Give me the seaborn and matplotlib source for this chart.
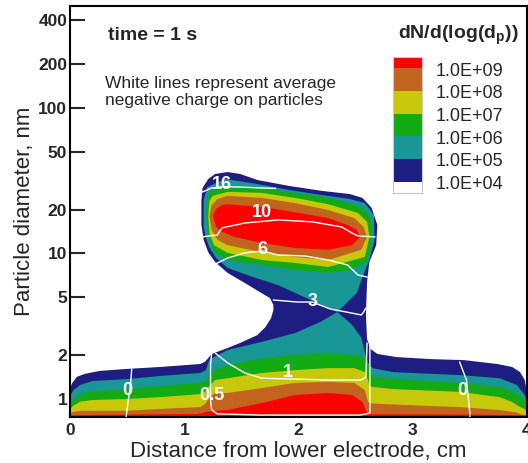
import matplotlib
matplotlib.use("Agg")
import matplotlib.pyplot as plt
from matplotlib.ticker import NullLocator
import seaborn as sns

# contour regions of dN/d(log(dp)) (x in cm, d in nm)
navy_x = [0, 0, 0.02, 0.06, 0.13, 0.26, 0.50, 0.79, 1.14, 1.18, 1.21, 1.24, 1.36, 1.49, 1.64, 1.71,
          1.76, 1.78, 1.78, 1.75, 1.66, 1.53, 1.38, 1.27, 1.21, 1.17, 1.15, 1.15, 1.16, 1.21, 1.27,
          1.38, 1.49, 1.64, 1.92, 2.21, 2.45, 2.56, 2.64, 2.69, 2.68, 2.62, 2.60, 2.59, 2.60, 2.63,
          2.69, 2.86, 3.16, 3.45, 3.74, 3.87, 3.94, 3.98, 4.0, 4.0]
navy_d = [0.7, 1.19, 1.29, 1.42, 1.49, 1.56, 1.61, 1.66, 1.74, 1.80, 1.91, 2.04, 2.21, 2.43, 2.75, 3.12,
          3.60, 4.09, 4.43, 4.94, 5.44, 6.27, 7.35, 8.74, 10.2, 12.4, 15.7, 23.3, 28.2, 32.5, 35.2,
          36.3, 35.2, 32.0, 29.1, 26.9, 25.6, 24.1, 20.6, 15.7, 11.4, 8.74, 6.37, 3.78, 2.58, 2.21,
          2.04, 1.94, 1.88, 1.85, 1.74, 1.66, 1.53, 1.35, 1.12, 0.7]

teal_x = [0, 0, 0.03, 0.09, 0.20, 0.50, 0.79, 1.14, 1.19, 1.22, 1.38, 1.68, 1.97, 2.19, 2.34, 2.07,
          1.82, 1.60, 1.38, 1.28, 1.22, 1.19, 1.17, 1.17, 1.20, 1.36, 1.64, 1.92, 2.21, 2.45, 2.58,
          2.66, 2.665, 2.62, 2.56, 2.51, 2.34, 2.47, 2.55, 2.58, 2.61, 2.65, 2.83, 3.41, 3.76, 3.91,
          3.98, 4.0, 4.0]
teal_d = [0.7, 1.05, 1.15, 1.25, 1.33, 1.37, 1.44, 1.51, 1.58, 1.87, 2.17, 2.47, 2.84, 3.38, 3.96, 4.94,
          6.07, 6.9, 7.95, 9.3, 11.0, 12.8, 15.2, 23.3, 28.6, 32.5, 30.0, 27.3, 25.2, 23.7, 22.2,
          18.4, 12.4, 9.02, 6.89, 5.35, 3.96, 3.23, 2.63, 2.10, 1.74, 1.63, 1.53, 1.46, 1.39, 1.25,
          1.065, 0.97, 0.7]

green_x = [0, 0, 0.035, 0.09, 0.20, 0.50, 0.79, 1.14, 1.19, 1.23, 1.27, 1.38, 1.68, 1.97, 2.26, 2.49,
           2.58, 2.61, 2.63, 2.65, 2.83, 3.41, 3.76, 3.91, 3.98, 4.0, 4.0]
green_d = [0.7, 0.924, 1.0, 1.08, 1.135, 1.17, 1.23, 1.29, 1.33, 1.48, 1.58, 1.71, 1.91, 2.01, 2.07, 2.01,
           1.91, 1.77, 1.55, 1.42, 1.38, 1.29, 1.21, 1.10, 0.984, 0.895, 0.7]
green_blob_x = [1.19, 1.20, 1.24, 1.38, 1.68, 1.97, 2.26, 2.55, 2.63, 2.645, 2.60, 2.45, 2.26, 1.97,
                1.68, 1.38, 1.26, 1.21]
green_blob_d = [18.1, 24.9, 27.3, 28.6, 28.2, 26.1, 24.1, 20.9, 17.5, 13.0, 8.74, 7.71, 7.35, 7.71,
                8.34, 9.02, 10.2, 13.2]

yellow_x = [0, 0, 0.03, 0.09, 0.20, 0.50, 0.79, 1.14, 1.18, 1.22, 1.27, 1.38, 1.68, 1.97, 2.26, 2.49,
            2.58, 2.61, 2.62, 2.65, 2.83, 3.41, 3.76, 3.87, 3.94, 4.0, 4.0]
yellow_d = [0.7, 0.854, 0.90, 0.96, 0.984, 1.0, 1.03, 1.08, 1.12, 1.23, 1.35, 1.39, 1.51, 1.58, 1.63,
            1.63, 1.53, 1.35, 1.23, 1.21, 1.17, 1.12, 1.03, 0.954, 0.881, 0.84, 0.7]
yellow_blob_x = [1.21, 1.22, 1.25, 1.38, 1.68, 1.97, 2.26, 2.52, 2.60, 2.62, 2.58, 2.26, 1.97, 1.68,
                 1.38, 1.26, 1.22]
yellow_blob_d = [18.1, 22.9, 24.9, 26.5, 26.1, 24.1, 21.8, 19.0, 16.5, 13.0, 9.47, 8.08, 8.61, 9.02,
                 10.1, 11.4, 13.8]

orange_x = [0, 0, 0.03, 0.09, 0.20, 0.50, 0.79, 1.14, 1.18, 1.22, 1.27, 1.38, 1.68, 1.97, 2.26, 2.49,
            2.58, 2.61, 2.65, 3.0, 3.41, 3.76, 3.90, 3.96, 4.0, 4.0]
orange_d = [0.7, 0.80, 0.815, 0.83, 0.83, 0.83, 0.855, 0.88, 0.92, 1.02, 1.10, 1.10, 1.19, 1.29, 1.31,
            1.29, 1.153, 0.95, 0.93, 0.905, 0.88, 0.84, 0.81, 0.78, 0.77, 0.7]
orange_blob_x = [1.22, 1.24, 1.29, 1.38, 1.68, 1.97, 2.26, 2.49, 2.57, 2.60, 2.55, 2.26, 1.97, 1.68,
                 1.38, 1.29, 1.24]
orange_blob_d = [18.1, 21.5, 23.7, 24.9, 24.1, 22.2, 19.9, 17.5, 15.2, 13.0, 10.6, 9.02, 9.47, 10.2,
                 11.4, 12.4, 14.5]

red_x = [0, 0, 0.5, 1.10, 1.16, 1.18, 1.27, 1.38, 1.68, 1.97, 2.26, 2.47, 2.56, 2.60, 2.63, 3.5, 4.0, 4.0]
red_d = [0.7, 0.772, 0.782, 0.788, 0.80, 0.814, 0.83, 0.84, 0.939, 1.065, 1.10, 1.065, 0.954, 0.80,
         0.785, 0.782, 0.772, 0.7]
red_blob_x = [1.25, 1.28, 1.33, 1.38, 1.68, 1.97, 2.26, 2.43, 2.51, 2.54, 2.47, 2.26, 1.97, 1.68,
              1.44, 1.33, 1.28]
red_blob_d = [18.1, 20.3, 21.5, 21.8, 20.9, 19.2, 17.5, 15.7, 14.5, 13.0, 11.4, 10.6, 10.9, 11.8,
              13.0, 14.1, 15.2]

# average negative charge lines
charge_lines = {
    "16": ([1.14, 1.24, 1.34, 1.49, 1.68, 1.80], [26.1, 28.2, 28.8, 28.6, 28.2, 28.0]),
    "10": ([1.15, 1.29, 1.33, 1.53, 1.82, 2.12, 2.38, 2.47, 2.52, 2.67],
           [13.0, 13.4, 15.0, 16.2, 17.0, 16.5, 15.2, 13.8, 13.2, 13.0]),
    "6": ([1.25, 1.38, 1.53, 1.68, 1.82, 2.06, 2.26, 2.43, 2.52, 2.60],
          [8.3, 9.31, 10.1, 10.4, 9.77, 9.61, 9.02, 8.34, 7.12, 6.89]),
    "3": ([1.78, 1.99, 2.12, 2.28, 2.42, 2.55, 2.57, 2.59], [4.79, 4.64, 4.64, 4.15, 3.96, 3.78, 3.96, 4.22]),
    "1": ([1.27, 1.38, 1.53, 1.68, 1.97, 2.26, 2.55, 2.59, 2.60], [2.07, 1.77, 1.51, 1.39, 1.37, 1.35, 1.35, 1.42, 2.43]),
    "0.5": ([1.24, 1.23, 1.23, 1.24, 1.29, 1.66, 2.54, 2.625, 2.625, 2.625, 2.625],
            [2.07, 1.71, 0.984, 0.84, 0.79, 0.776, 0.776, 0.80, 0.984, 1.58, 2.47]),
    "0a": ([0.54, 0.53, 0.51, 0.49], [1.61, 1.25, 0.984, 0.74]),
    "0b": ([3.41, 3.47, 3.50, 3.50], [1.80, 1.35, 0.80, 0.74]),
}
label_text = ["16", "10", "6", "3", "1", "0.5", "0", "0"]
label_x = [1.33, 1.68, 1.68, 2.12, 1.91, 1.24, 0.50, 3.43]
label_d = [29.6, 19.2, 10.6, 4.71, 1.53, 1.065, 1.153, 1.153]

legend_levels = [4, 5, 6, 7, 8, 9]
legend_labels = ["1.0E+04", "1.0E+05", "1.0E+06", "1.0E+07", "1.0E+08", "1.0E+09"]
colors = ["#1e1e82", "#199696", "#14aa14", "#c8c80a", "#c3641e", "#ff0000"]

y_ticks = [1, 2, 5, 10, 20, 50, 100, 200, 400]
x_ticks = [0, 1, 2, 3, 4]

sns.set_style("ticks")
plt.rcParams["font.family"] = ["Liberation Sans", "DejaVu Sans"]
plt.rcParams["mathtext.fontset"] = "custom"
plt.rcParams["mathtext.rm"] = "Liberation Sans"
plt.rcParams["mathtext.bf"] = "Liberation Sans:bold"

fig = plt.figure(figsize=(5.28, 4.63), dpi=100)
ax = fig.add_axes([0.1326, 0.1004, 0.8655, 0.8866])
ax.set_facecolor("white")

regions = [
    [(navy_x, navy_d)],
    [(teal_x, teal_d)],
    [(green_x, green_d), (green_blob_x, green_blob_d)],
    [(yellow_x, yellow_d), (yellow_blob_x, yellow_blob_d)],
    [(orange_x, orange_d), (orange_blob_x, orange_blob_d)],
    [(red_x, red_d), (red_blob_x, red_blob_d)],
]
for polys, c in zip(regions, colors):
    for px, pd_ in polys:
        ax.fill(px, pd_, color=c, lw=0, zorder=1)

ax.set_yscale("log")
for name, (lx, ld) in charge_lines.items():
    sns.lineplot(x=lx, y=ld, sort=False, estimator=None, color="white", lw=1.0, ax=ax, zorder=3)
for t, lx, ld in zip(label_text, label_x, label_d):
    ax.text(lx, ld, t, color="white", fontsize=13, fontweight="bold", ha="center", va="center", zorder=4)

ax.set_xlim(0, 4)
ax.set_ylim(0.758, 502)
ax.set_xticks(x_ticks)
ax.set_xticklabels([str(v) for v in x_ticks], fontweight="bold")
ax.set_yticks(y_ticks)
ax.set_yticklabels([str(v) for v in y_ticks], fontweight="bold")
ax.yaxis.set_minor_locator(NullLocator())
ax.tick_params(axis="y", direction="in", length=10.5, width=1.5, labelsize=12.5, pad=2, right=False)
ax.tick_params(axis="x", direction="in", length=6, width=1.5, labelsize=12.5, pad=5, top=False)
for s in ax.spines.values():
    s.set_linewidth(1.5)
    s.set_color("black")
ax.set_xlabel("Distance from lower electrode, cm", fontsize=16, labelpad=2)
ax.set_ylabel("Particle diameter, nm", fontsize=16, labelpad=2)

ax.text(0.083, 0.929, "time = 1 s", transform=ax.transAxes, fontsize=14, fontweight="bold", va="center")
ax.text(0.077, 0.812, "White lines represent average", transform=ax.transAxes, fontsize=12.5, va="center")
ax.text(0.077, 0.771, "negative charge on particles", transform=ax.transAxes, fontsize=12.5, va="center")
ax.text(0.849, 0.929, r"dN/d(log(d$_\mathbf{p}$))", transform=ax.transAxes, fontsize=14,
        fontweight="bold", ha="center", va="center")

# legend column
lax = fig.add_axes([0.7443, 0.5832, 0.0549, 0.2937])
lax.bar(0.5, 0.5, bottom=3.5, width=1, color="white", lw=0)
for lv, c in zip(legend_levels, colors):
    h = 0.5 if lv == legend_levels[-1] else 1
    lax.bar(0.5, h, bottom=lv, width=1, color=c, lw=0)
for lv, t in zip(legend_levels, legend_labels):
    lax.text(1.48, lv - 0.13, t, fontsize=13, va="center", ha="left", clip_on=False)
lax.set_xlim(0, 1)
lax.set_ylim(3.5, 9.5)
lax.set_xticks([])
lax.set_yticks([])
for s in lax.spines.values():
    s.set_color("#c8c8c8")
    s.set_linewidth(0.8)

fig.savefig("out.png", dpi=100)
